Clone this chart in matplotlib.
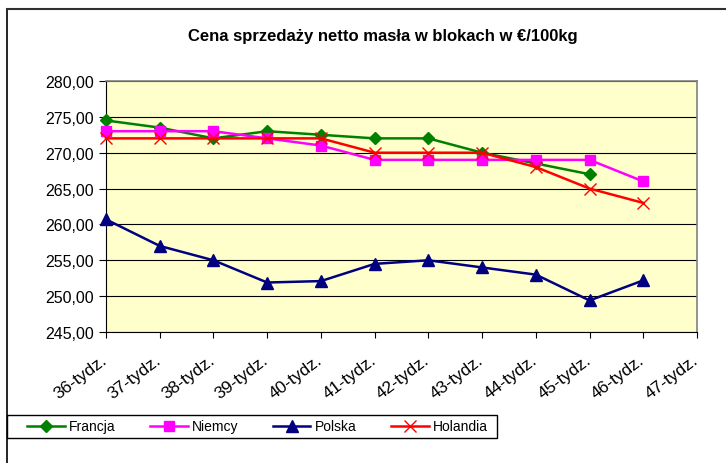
import matplotlib.pyplot as plt
from matplotlib.lines import Line2D
from matplotlib.patches import Rectangle
from matplotlib.ticker import FuncFormatter
from matplotlib.transforms import ScaledTranslation

plt.rcParams['font.family'] = ['Liberation Sans', 'DejaVu Sans']

weeks = ["36-tydz.", "37-tydz.", "38-tydz.", "39-tydz.", "40-tydz.", "41-tydz.",
         "42-tydz.", "43-tydz.", "44-tydz.", "45-tydz.", "46-tydz.", "47-tydz."]
francja = [274.5, 273.5, 272.0, 273.0, 272.5, 272.0, 272.0, 270.0, 268.5, 267.0]
niemcy = [273.0, 273.0, 273.0, 272.0, 271.0, 269.0, 269.0, 269.0, 269.0, 269.0, 266.0]
polska = [260.7, 257.0, 255.0, 251.9, 252.1, 254.5, 255.0, 254.0, 253.0, 249.4, 252.2]
holandia = [272.0, 272.0, 272.0, 272.0, 272.0, 270.0, 270.0, 270.0, 268.0, 265.0, 263.0]

fig = plt.figure(figsize=(7.26, 4.64), dpi=100)
ax = fig.add_axes([106 / 726, 1 - 333 / 464, 591 / 726, 251 / 464])
ax.set_facecolor('#FFFFCC')

ax.plot(range(len(francja)), francja, color='#008000', lw=1.8, marker='D', ms=6.5,
        label='Francja', clip_on=False, zorder=3)
ax.plot(range(len(niemcy)), niemcy, color='#FF00FF', lw=1.8, marker='s', ms=7.5,
        label='Niemcy', clip_on=False, zorder=3)
ax.plot(range(len(polska)), polska, color='#000080', lw=1.8, marker='^', ms=8.5,
        label='Polska', clip_on=False, zorder=3)
ax.plot(range(len(holandia)), holandia, color='#FF0000', lw=1.8, marker='x', ms=8,
        mew=1, label='Holandia', clip_on=False, zorder=3)

ax.set_xlim(0, len(weeks) - 1)
ax.set_ylim(245, 280)
ax.set_yticks(range(245, 281, 5))
ax.yaxis.set_major_formatter(FuncFormatter(lambda v, p: f"{v:.2f}".replace('.', ',')))
ax.set_xticks(range(len(weeks)))
ax.set_xticklabels(weeks, rotation=37, ha='right', va='top', rotation_mode='anchor')
ax.tick_params(axis='both', direction='out', colors='black')
ax.tick_params(axis='y', length=5, pad=4, labelsize=11.5)
ax.tick_params(axis='x', length=4, pad=10, labelsize=12.5)
shift = ScaledTranslation(-5 / 100, 0, fig.dpi_scale_trans)
for lab in ax.get_xticklabels():
    lab.set_transform(lab.get_transform() + shift)
ax.grid(axis='y', color='black', lw=0.8)
ax.set_axisbelow(True)
for s in ['top', 'right']:
    ax.spines[s].set_color('#808080')
    ax.spines[s].set_linewidth(1.2)
for s in ['left', 'bottom']:
    ax.spines[s].set_color('black')

fig.text(383 / 726, 1 - 37 / 464, "Cena sprzedaży netto masła w blokach w €/100kg",
         ha='center', va='center', fontsize=12, fontweight='bold')

# outer chart frame (left and top edges visible)
fig.add_artist(Line2D([7 / 726, 7 / 726], [0, 1 - 10 / 464], color='black', lw=1.2,
                      transform=fig.transFigure))
fig.add_artist(Line2D([7 / 726, 1], [1 - 10 / 464, 1 - 10 / 464], color='#303030', lw=1.5,
                      transform=fig.transFigure))

# legend box
fig.add_artist(Rectangle((7 / 726, 1 - 439 / 464), 490 / 726, 23 / 464, fill=False,
                         edgecolor='black', lw=1, transform=fig.transFigure))
fig.legend(loc='center left', bbox_to_anchor=(27 / 726, 1 - 427.5 / 464), ncol=4,
           frameon=False, fontsize=10, handlelength=2.7, handletextpad=0.3,
           columnspacing=2.5, borderpad=0, borderaxespad=0)

fig.savefig('out.png', dpi=100)
